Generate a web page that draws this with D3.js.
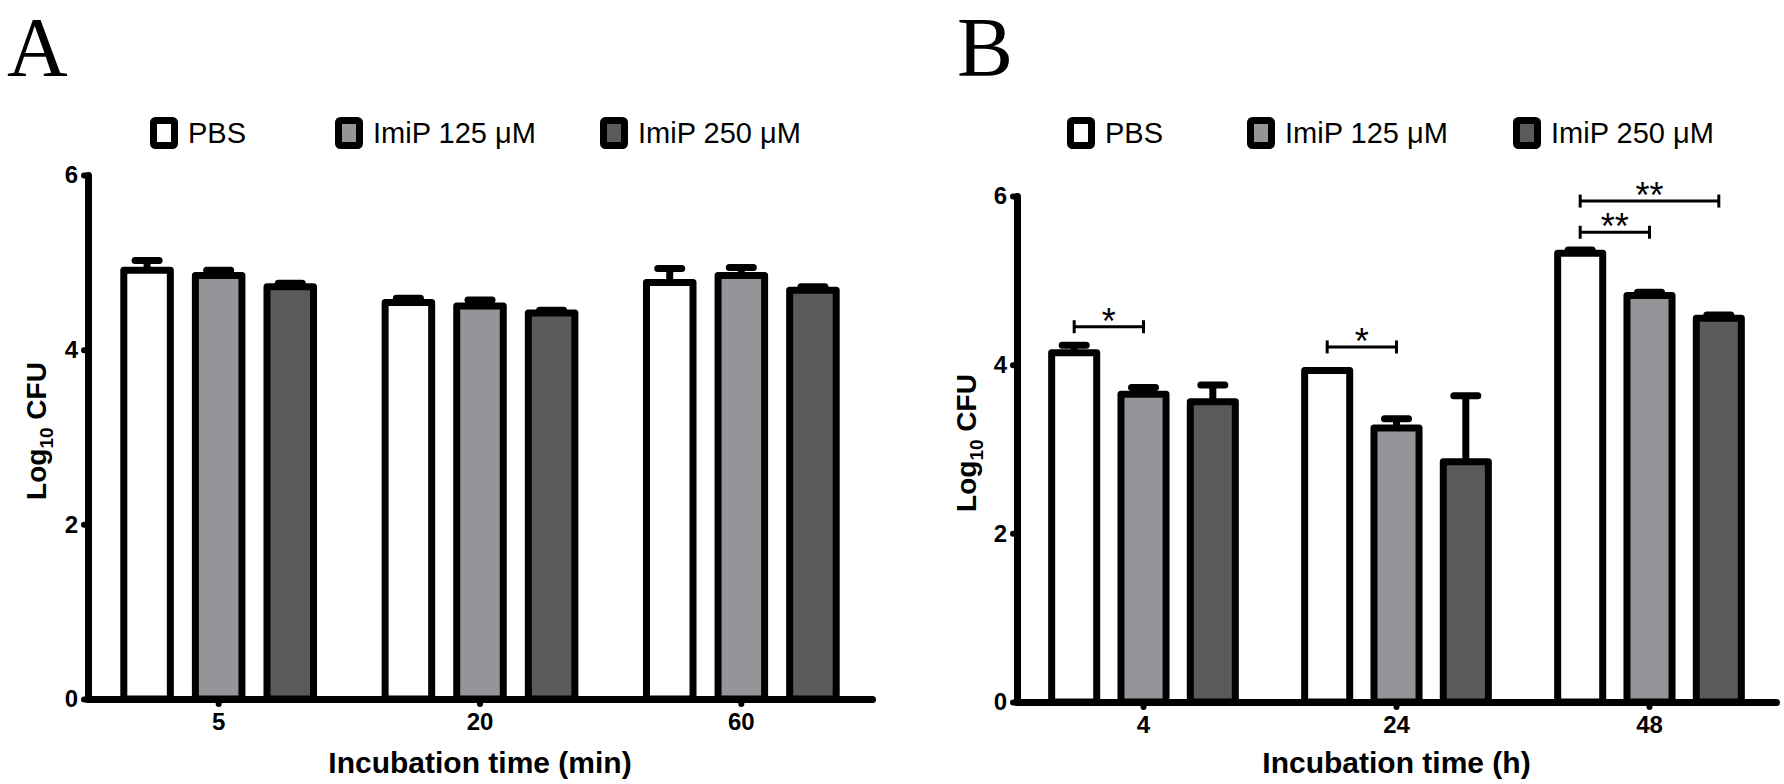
<!DOCTYPE html>
<html>
<head>
<meta charset="utf-8">
<script src="https://cdn.jsdelivr.net/npm/d3@7"></script>
<style>
  body { margin: 0; background: #fff; }
  text { font-family: Arial, "Liberation Sans", sans-serif; }
</style>
</head>
<body>
<svg id="chart" width="1784" height="784"></svg>
<script>
let fillPBS = "#FFFFFF";
let fill125 = "#949599";
let fill250 = "#5A5A5C";
let ink = "#000000";

const seriesNames = ["PBS", "ImiP 125 μM", "ImiP 250 μM"];
const yTicks = [0, 2, 4, 6];

// panel A - minutes
const timesA = ["5", "20", "60"];
const pbsA = [4.91, 4.54, 4.77];
const imip125A = [4.85, 4.50, 4.85];
const imip250A = [4.72, 4.42, 4.68];
const pbsSemA = [0.11, 0.05, 0.16];
const imip125SemA = [0.06, 0.07, 0.09];
const imip250SemA = [0.04, 0.03, 0.04];

// panel B - hours
const timesB = ["4", "24", "48"];
const pbsB = [4.14, 3.93, 5.32];
const imip125B = [3.65, 3.25, 4.82];
const imip250B = [3.56, 2.85, 4.55];
const pbsSemB = [0.09, 0, 0.04];
const imip125SemB = [0.08, 0.11, 0.04];
const imip250SemB = [0.20, 0.78, 0.04];

// significance brackets in panel B (series index from -> to)
const sigTimeB = ["4", "24", "48", "48"];
const sigFromB = [0, 0, 0, 0];
const sigToB = [1, 1, 1, 2];
const sigLevelB = [4.45, 4.21, 5.57, 5.94];
const sigLabelB = ["*", "*", "**", "**"];

const fills = [fillPBS, fill125, fill250];
const svg = d3.select("#chart");

const panels = [
  {
    letter: "A", letterX: 7,
    x0: 88, x1: 872, yBottom: 699, yTop: 175,
    legendX: [150, 335, 600],
    times: timesA,
    means: [pbsA, imip125A, imip250A],
    sems: [pbsSemA, imip125SemA, imip250SemA],
    xTitle: "Incubation time (min)",
    yTitleX: 46, yTitleY: 431,
    sig: []
  },
  {
    letter: "B", letterX: 957,
    x0: 1017, x1: 1776, yBottom: 702, yTop: 196,
    legendX: [1067, 1247, 1513],
    times: timesB,
    means: [pbsB, imip125B, imip250B],
    sems: [pbsSemB, imip125SemB, imip250SemB],
    xTitle: "Incubation time (h)",
    yTitleX: 976, yTitleY: 443,
    sig: sigTimeB.map((t, i) => ({
      time: t, from: sigFromB[i], to: sigToB[i], level: sigLevelB[i], label: sigLabelB[i]
    }))
  }
];

panels.forEach(drawPanel);

function drawPanel(p) {
  const g = svg.append("g");

  //scales
  const x = d3.scaleBand().domain(p.times).range([p.x0, p.x1]);
  const xs = d3.scaleBand()
    .domain([0, 1, 2])
    .range([0, x.bandwidth()])
    .paddingInner(0.35)
    .paddingOuter(0.5);
  const y = d3.scaleLinear().domain([0, 6]).range([p.yBottom, p.yTop]);

  const rows = [];
  p.times.forEach((t, i) => {
    p.means.forEach((m, j) => {
      rows.push({ time: t, s: j, mean: m[i], sem: p.sems[j][i] });
    });
  });
  const cx = (d) => x(d.time) + xs(d.s) + xs.bandwidth() / 2;

  // panel letter (kept clear of the top edge)
  g.append("text")
    .attr("x", p.letterX)
    .attr("y", 76)
    .style("font-family", "'Liberation Serif', 'Times New Roman', serif")
    .style("font-size", "84px")
    .text(p.letter);

  //legend
  const leg = g.selectAll(".leg")
    .data(seriesNames)
    .enter()
    .append("g")
    .attr("transform", (d, i) => `translate(${p.legendX[i]}, 117)`);

  leg.append("rect")
    .attr("x", 3.5).attr("y", 3.5)
    .attr("width", 21).attr("height", 25)
    .attr("rx", 2)
    .attr("fill", (d, i) => fills[i])
    .attr("stroke", ink)
    .attr("stroke-width", 7);

  leg.append("text")
    .attr("x", 38)
    .attr("y", 26)
    .style("font-size", "29px")
    .text((d) => d);

  //bars
  g.selectAll(".bar")
    .data(rows)
    .enter()
    .append("rect")
    .attr("class", "bar")
    .attr("x", (d) => x(d.time) + xs(d.s))
    .attr("y", (d) => y(d.mean))
    .attr("width", xs.bandwidth())
    .attr("height", (d) => y(0) - y(d.mean))
    .attr("fill", (d) => fills[d.s])
    .attr("stroke", ink)
    .attr("stroke-width", 7)
    .attr("stroke-linejoin", "round");

  // error bars, upper half only
  const err = g.selectAll(".err")
    .data(rows.filter((d) => d.sem > 0))
    .enter()
    .append("g");

  err.append("line")
    .attr("x1", cx).attr("x2", cx)
    .attr("y1", (d) => y(d.mean))
    .attr("y2", (d) => y(d.mean + d.sem))
    .attr("stroke", ink)
    .attr("stroke-width", 7);

  err.append("line")
    .attr("x1", (d) => cx(d) - 12)
    .attr("x2", (d) => cx(d) + 12)
    .attr("y1", (d) => y(d.mean + d.sem))
    .attr("y2", (d) => y(d.mean + d.sem))
    .attr("stroke", ink)
    .attr("stroke-width", 7)
    .attr("stroke-linecap", "round");

  //draw Y axis
  const yAxis = g.append("g")
    .attr("transform", `translate(${p.x0}, 0)`)
    .call(d3.axisLeft(y)
      .tickValues(yTicks)
      .tickFormat(d3.format("d"))
      .tickSize(4)
      .tickSizeOuter(0)
      .tickPadding(6));

  //draw X axis
  const xAxis = g.append("g")
    .attr("transform", `translate(0, ${p.yBottom})`)
    .call(d3.axisBottom(x).tickSize(5).tickSizeOuter(0).tickPadding(9));

  [yAxis, xAxis].forEach((a) => {
    a.select(".domain")
      .attr("stroke", ink)
      .attr("stroke-width", 7)
      .attr("stroke-linecap", "round");
    a.selectAll(".tick line")
      .attr("stroke", ink)
      .attr("stroke-width", 6)
      .attr("stroke-linecap", "round");
    a.selectAll(".tick text")
      .attr("fill", ink)
      .style("font-family", "Arial, 'Liberation Sans', sans-serif")
      .style("font-size", "24px")
      .style("font-weight", "bold");
  });

  // axis titles
  g.append("text")
    .attr("x", (p.x0 + p.x1) / 2)
    .attr("y", 773)
    .attr("text-anchor", "middle")
    .style("font-size", "30px")
    .style("font-weight", "bold")
    .text(p.xTitle);

  const yt = g.append("text")
    .attr("transform", `translate(${p.yTitleX}, ${p.yTitleY}) rotate(-90)`)
    .attr("text-anchor", "middle")
    .style("font-size", "28px")
    .style("font-weight", "bold");
  yt.append("tspan").text("Log");
  yt.append("tspan").attr("dy", 7).style("font-size", "19px").text("10");
  yt.append("tspan").attr("dy", -7).text(" CFU");

  // significance brackets
  const sig = g.selectAll(".sig")
    .data(p.sig)
    .enter()
    .append("g");

  const bx = (d, s) => x(d.time) + xs(s) + xs.bandwidth() / 2;

  sig.append("line")
    .attr("x1", (d) => bx(d, d.from))
    .attr("x2", (d) => bx(d, d.to))
    .attr("y1", (d) => y(d.level))
    .attr("y2", (d) => y(d.level))
    .attr("stroke", ink)
    .attr("stroke-width", 3);

  [(d) => bx(d, d.from), (d) => bx(d, d.to)].forEach((fx) => {
    sig.append("line")
      .attr("x1", fx).attr("x2", fx)
      .attr("y1", (d) => y(d.level) - 6.5)
      .attr("y2", (d) => y(d.level) + 6.5)
      .attr("stroke", ink)
      .attr("stroke-width", 3);
  });

  sig.append("text")
    .attr("x", (d) => (bx(d, d.from) + bx(d, d.to)) / 2)
    .attr("y", (d) => y(d.level) + 7)
    .attr("text-anchor", "middle")
    .style("font-size", "36px")
    .text((d) => d.label);
}
</script>
</body>
</html>
